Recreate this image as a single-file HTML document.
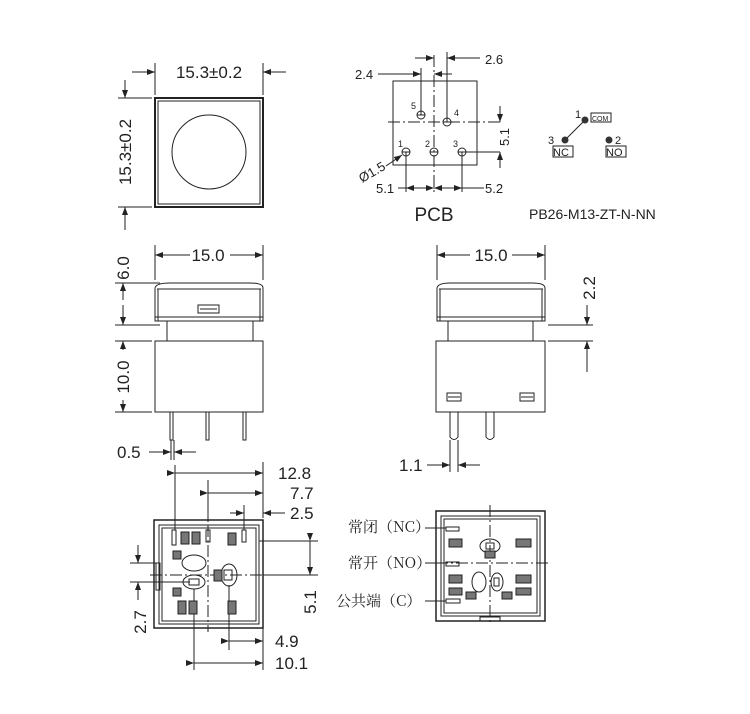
<!DOCTYPE html>
<html><head><meta charset="utf-8"><style>
html,body{margin:0;padding:0;background:#fff}
svg text{font-family:"Liberation Sans","Noto Sans CJK SC",sans-serif;fill:#222}
.cn{font-family:"Noto Serif CJK SC","Noto Sans CJK SC",serif}
</style></head><body>
<svg width="750" height="709" viewBox="0 0 750 709" xmlns="http://www.w3.org/2000/svg">
<defs>
<marker id="a" markerWidth="8" markerHeight="6" refX="8" refY="3" orient="auto" markerUnits="userSpaceOnUse"><path d="M0,0 L8,3 L0,6z" fill="#222"/></marker>
</defs>
<g stroke="#222" fill="none" stroke-width="1">
<rect x="155" y="98" width="108" height="109" stroke-width="2"/>
<rect x="158" y="101" width="102" height="103"/>
<circle cx="209" cy="152" r="37"/>
<line x1="155" y1="63" x2="155" y2="95"/><line x1="263" y1="63" x2="263" y2="95"/>
<line x1="132" y1="72" x2="155" y2="72" marker-end="url(#a)"/>
<line x1="286" y1="72" x2="263" y2="72" marker-end="url(#a)"/>
<line x1="118" y1="98" x2="152" y2="98"/><line x1="118" y1="207" x2="152" y2="207"/>
<line x1="125" y1="80" x2="125" y2="98" marker-end="url(#a)"/>
<line x1="125" y1="230" x2="125" y2="207" marker-end="url(#a)"/>
<rect x="393" y="81" width="84" height="84"/>
<line x1="388" y1="122" x2="500" y2="122" stroke-dasharray="12,3,2,3"/>
<line x1="434" y1="55" x2="434" y2="192" stroke-dasharray="12,3,2,3"/>
<line x1="421" y1="68" x2="421" y2="115"/><line x1="447" y1="52" x2="447" y2="122"/>
<line x1="406" y1="152" x2="406" y2="192"/><line x1="462" y1="152" x2="462" y2="192"/>
<line x1="462" y1="152" x2="500" y2="152"/>
<line x1="415" y1="58" x2="434" y2="58" marker-end="url(#a)"/><line x1="480" y1="58" x2="447" y2="58" marker-end="url(#a)"/>
<line x1="378" y1="74" x2="421" y2="74" marker-end="url(#a)"/><line x1="452" y1="74" x2="434" y2="74" marker-end="url(#a)"/>
<line x1="500" y1="106" x2="500" y2="122" marker-end="url(#a)"/><line x1="500" y1="168" x2="500" y2="152" marker-end="url(#a)"/>
<line x1="398" y1="188" x2="434" y2="188"/><line x1="421" y1="188" x2="434" y2="188" marker-end="url(#a)"/><line x1="420" y1="188" x2="406" y2="188" marker-end="url(#a)"/>
<line x1="434" y1="188" x2="484" y2="188"/><line x1="448" y1="188" x2="462" y2="188" marker-end="url(#a)"/><line x1="448" y1="188" x2="434" y2="188" marker-end="url(#a)"/>
<line x1="386" y1="166" x2="402" y2="155" marker-end="url(#a)"/>
<g>
<circle cx="421" cy="115" r="4"/><line x1="417" y1="115" x2="425" y2="115"/>
<circle cx="447" cy="122" r="4"/><line x1="443" y1="122" x2="451" y2="122"/>
<circle cx="406" cy="152" r="4"/><line x1="402" y1="152" x2="410" y2="152"/>
<circle cx="434" cy="152" r="4"/><line x1="430" y1="152" x2="438" y2="152"/>
<circle cx="462" cy="152" r="4"/><line x1="458" y1="152" x2="466" y2="152"/>
</g>
<line x1="585" y1="120" x2="565" y2="140"/>
<rect x="591" y="113" width="20" height="9"/>
<rect x="553" y="146" width="20" height="11"/>
<rect x="606" y="146" width="20" height="11"/>
<path d="M155,288 Q156,283 170,283 L250,283 Q263,283 263,288 L263,321 L155,321z"/>
<line x1="157" y1="289" x2="261" y2="289"/>
<line x1="158" y1="289" x2="158" y2="321"/><line x1="260" y1="289" x2="260" y2="321"/>
<line x1="155" y1="317" x2="263" y2="317"/>
<rect x="198" y="305" width="21" height="8"/><line x1="200" y1="309" x2="217" y2="309"/>
<line x1="167" y1="321" x2="167" y2="341"/><line x1="253" y1="321" x2="253" y2="341"/>
<rect x="155" y="341" width="108" height="71"/>
<rect x="170" y="412" width="3" height="28"/><rect x="206" y="412" width="3" height="28"/><rect x="243" y="412" width="3" height="28"/>
<line x1="155" y1="245" x2="155" y2="280"/><line x1="263" y1="245" x2="263" y2="280"/>
<line x1="190" y1="255" x2="155" y2="255" marker-end="url(#a)"/><line x1="230" y1="255" x2="263" y2="255" marker-end="url(#a)"/>
<line x1="115" y1="283" x2="160" y2="283"/><line x1="115" y1="325" x2="160" y2="325"/>
<line x1="115" y1="341" x2="152" y2="341"/><line x1="115" y1="412" x2="152" y2="412"/>
<line x1="123" y1="300" x2="123" y2="283" marker-end="url(#a)"/><line x1="123" y1="305" x2="123" y2="325" marker-end="url(#a)"/>
<line x1="123" y1="350" x2="123" y2="341" marker-end="url(#a)"/><line x1="123" y1="400" x2="123" y2="412" marker-end="url(#a)"/>
<line x1="171" y1="440" x2="171" y2="460"/><line x1="174" y1="440" x2="174" y2="460"/>
<line x1="149" y1="452" x2="171" y2="452" marker-end="url(#a)"/><line x1="196" y1="452" x2="174" y2="452" marker-end="url(#a)"/>
<path d="M437,288 Q438,283 450,283 L532,283 Q545,283 545,288 L545,321 L437,321z"/>
<line x1="439" y1="289" x2="543" y2="289"/>
<line x1="440" y1="289" x2="440" y2="321"/><line x1="542" y1="289" x2="542" y2="321"/>
<line x1="437" y1="317" x2="545" y2="317"/>
<line x1="448" y1="321" x2="448" y2="341"/><line x1="533" y1="321" x2="533" y2="341"/>
<rect x="436" y="341" width="109" height="71"/>
<rect x="447" y="393" width="14" height="8"/><line x1="448" y1="397" x2="460" y2="397"/>
<rect x="520" y="393" width="14" height="8"/><line x1="521" y1="397" x2="533" y2="397"/>
<path d="M450,412 L450,437 Q454,442 458,437 L458,412"/>
<path d="M486,412 L486,437 Q490,442 494,437 L494,412"/>
<line x1="437" y1="245" x2="437" y2="280"/><line x1="545" y1="245" x2="545" y2="280"/>
<line x1="470" y1="255" x2="437" y2="255" marker-end="url(#a)"/><line x1="512" y1="255" x2="545" y2="255" marker-end="url(#a)"/>
<line x1="548" y1="325" x2="593" y2="325"/><line x1="548" y1="341" x2="593" y2="341"/>
<line x1="587" y1="305" x2="587" y2="325" marker-end="url(#a)"/><line x1="587" y1="372" x2="587" y2="341" marker-end="url(#a)"/>
<line x1="450" y1="440" x2="450" y2="472"/><line x1="458" y1="440" x2="458" y2="472"/>
<line x1="427" y1="465" x2="450" y2="465" marker-end="url(#a)"/><line x1="480" y1="465" x2="458" y2="465" marker-end="url(#a)"/>
<rect x="154" y="520" width="109" height="108" stroke-width="1.5"/>
<rect x="159" y="525" width="100" height="99"/>
<rect x="162" y="528" width="94" height="93"/>
<rect x="156" y="563" width="4" height="27"/>
<line x1="150" y1="575" x2="275" y2="575" stroke-dasharray="12,3,2,3"/>
<line x1="208" y1="505" x2="208" y2="632" stroke-dasharray="12,3,2,3"/>
<rect x="172" y="530" width="4" height="15"/>
<rect x="206" y="530" width="4" height="12"/>
<rect x="242" y="530" width="4" height="12"/>
<ellipse cx="194" cy="563" rx="12" ry="8"/>
<ellipse cx="194" cy="582" rx="11" ry="7"/><rect x="189" y="579" width="10" height="6"/>
<ellipse cx="229" cy="575" rx="8" ry="11"/><rect x="224" y="570" width="8" height="10"/>
<line x1="175" y1="465" x2="175" y2="530"/><line x1="263" y1="462" x2="263" y2="518"/>
<line x1="208" y1="480" x2="208" y2="520"/><line x1="244" y1="505" x2="244" y2="530"/>
<line x1="175" y1="473" x2="263" y2="473" marker-start="url(#a)" marker-end="url(#a)"/>
<line x1="208" y1="493" x2="263" y2="493" marker-start="url(#a)" marker-end="url(#a)"/>
<line x1="230" y1="513" x2="244" y2="513" marker-end="url(#a)"/><line x1="285" y1="513" x2="263" y2="513" marker-end="url(#a)"/>
<line x1="259" y1="541" x2="318" y2="541"/><line x1="263" y1="575" x2="318" y2="575"/>
<line x1="310" y1="541" x2="310" y2="575" marker-start="url(#a)" marker-end="url(#a)"/>
<line x1="130" y1="563" x2="156" y2="563"/><line x1="130" y1="582" x2="190" y2="582"/>
<line x1="138" y1="545" x2="138" y2="563" marker-end="url(#a)"/><line x1="138" y1="600" x2="138" y2="582" marker-end="url(#a)"/>
<line x1="229" y1="585" x2="229" y2="650"/><line x1="194" y1="589" x2="194" y2="670"/><line x1="263" y1="628" x2="263" y2="670"/>
<line x1="229" y1="641" x2="263" y2="641" marker-end="url(#a)" marker-start="url(#a)"/>
<line x1="194" y1="663" x2="263" y2="663" marker-end="url(#a)" marker-start="url(#a)"/>
<rect x="436" y="511" width="109" height="110" stroke-width="1.5"/>
<rect x="441" y="516" width="99" height="100"/>
<rect x="444" y="519" width="93" height="94"/>
<line x1="490" y1="505" x2="490" y2="625" stroke-dasharray="12,3,2,3"/>
<line x1="436" y1="563" x2="548" y2="563" stroke-dasharray="12,3,2,3"/>
<rect x="446" y="527" width="13" height="4"/>
<rect x="446" y="562" width="13" height="4"/>
<rect x="446" y="599" width="14" height="4"/>
<ellipse cx="490" cy="546" rx="10" ry="7"/><rect x="486" y="543" width="8" height="6"/>
<ellipse cx="479" cy="582" rx="7" ry="10"/>
<ellipse cx="497" cy="582" rx="6" ry="9"/><rect x="494" y="578" width="5" height="8"/>
<rect x="480" y="617" width="20" height="4"/>
<line x1="425" y1="528" x2="446" y2="528"/><line x1="425" y1="563" x2="446" y2="563"/><line x1="425" y1="601" x2="446" y2="601"/>
</g>
<g fill="#333">
<circle cx="585" cy="120" r="3.5"/><circle cx="565" cy="140" r="3.5"/><circle cx="609" cy="140" r="3.5"/>
</g>
<g fill="#777" stroke="#222" stroke-width="1">
<rect x="181" y="532" width="8" height="12"/><rect x="192" y="532" width="8" height="12"/><rect x="228" y="533" width="8" height="12"/>
<rect x="173" y="551" width="8" height="8"/><rect x="173" y="588" width="8" height="8"/>
<rect x="178" y="601" width="8" height="13"/><rect x="189" y="601" width="8" height="13"/><rect x="228" y="601" width="8" height="13"/>
<rect x="214" y="570" width="8" height="11"/>
<rect x="449" y="539" width="13" height="8"/><rect x="516" y="539" width="15" height="8"/>
<rect x="485" y="551" width="10" height="7"/>
<rect x="449" y="575" width="13" height="8"/><rect x="449" y="588" width="13" height="7"/>
<rect x="516" y="575" width="15" height="8"/><rect x="516" y="588" width="15" height="7"/>
<rect x="466" y="592" width="10" height="7"/><rect x="502" y="592" width="10" height="7"/>
</g>
<g font-size="17">
<text x="209" y="78" text-anchor="middle">15.3±0.2</text>
<text transform="translate(131,152) rotate(-90)" text-anchor="middle">15.3±0.2</text>
<text x="208" y="261" text-anchor="middle">15.0</text>
<text x="491" y="261" text-anchor="middle">15.0</text>
<text transform="translate(129,268) rotate(-90)" text-anchor="middle">6.0</text>
<text transform="translate(129,377) rotate(-90)" text-anchor="middle">10.0</text>
<text transform="translate(595,288) rotate(-90)" text-anchor="middle">2.2</text>
<text x="117" y="458">0.5</text>
<text x="399" y="471">1.1</text>
<text x="278" y="479">12.8</text>
<text x="290" y="499">7.7</text>
<text x="290" y="519">2.5</text>
<text transform="translate(316,602) rotate(-90)" text-anchor="middle">5.1</text>
<text transform="translate(146,622) rotate(-90)" text-anchor="middle">2.7</text>
<text x="275" y="647">4.9</text>
<text x="275" y="669">10.1</text>
</g>
<g font-size="13">
<text x="355" y="79">2.4</text>
<text x="485" y="64">2.6</text>
<text transform="translate(509,137) rotate(-90)" text-anchor="middle">5.1</text>
<text x="376" y="193">5.1</text>
<text x="485" y="193">5.2</text>
<text transform="translate(362,183) rotate(-30)">Ø1.5</text>
<text x="529" y="219" font-size="14">PB26-M13-ZT-N-NN</text>
<text x="434" y="221" font-size="19" text-anchor="middle">PCB</text>
<text x="553" y="156" font-size="11">NC</text>
<text x="606" y="156" font-size="11">NO</text>
<text x="548" y="144" font-size="11">3</text>
<text x="615" y="144" font-size="11">2</text>
<text x="575" y="118" font-size="11">1</text>
<text x="592" y="121" font-size="7">COM</text>
</g>
<g font-size="9">
<text x="411" y="109">5</text><text x="454" y="116">4</text><text x="398" y="147">1</text><text x="425" y="147">2</text><text x="453" y="147">3</text>
</g>
<g font-size="15">
<text x="348" y="532" class="cn">常闭（NC）</text>
<text x="348" y="568" class="cn">常开（NO）</text>
<text x="336" y="606" class="cn">公共端（C）</text>
</g>
</svg>
</body></html>
